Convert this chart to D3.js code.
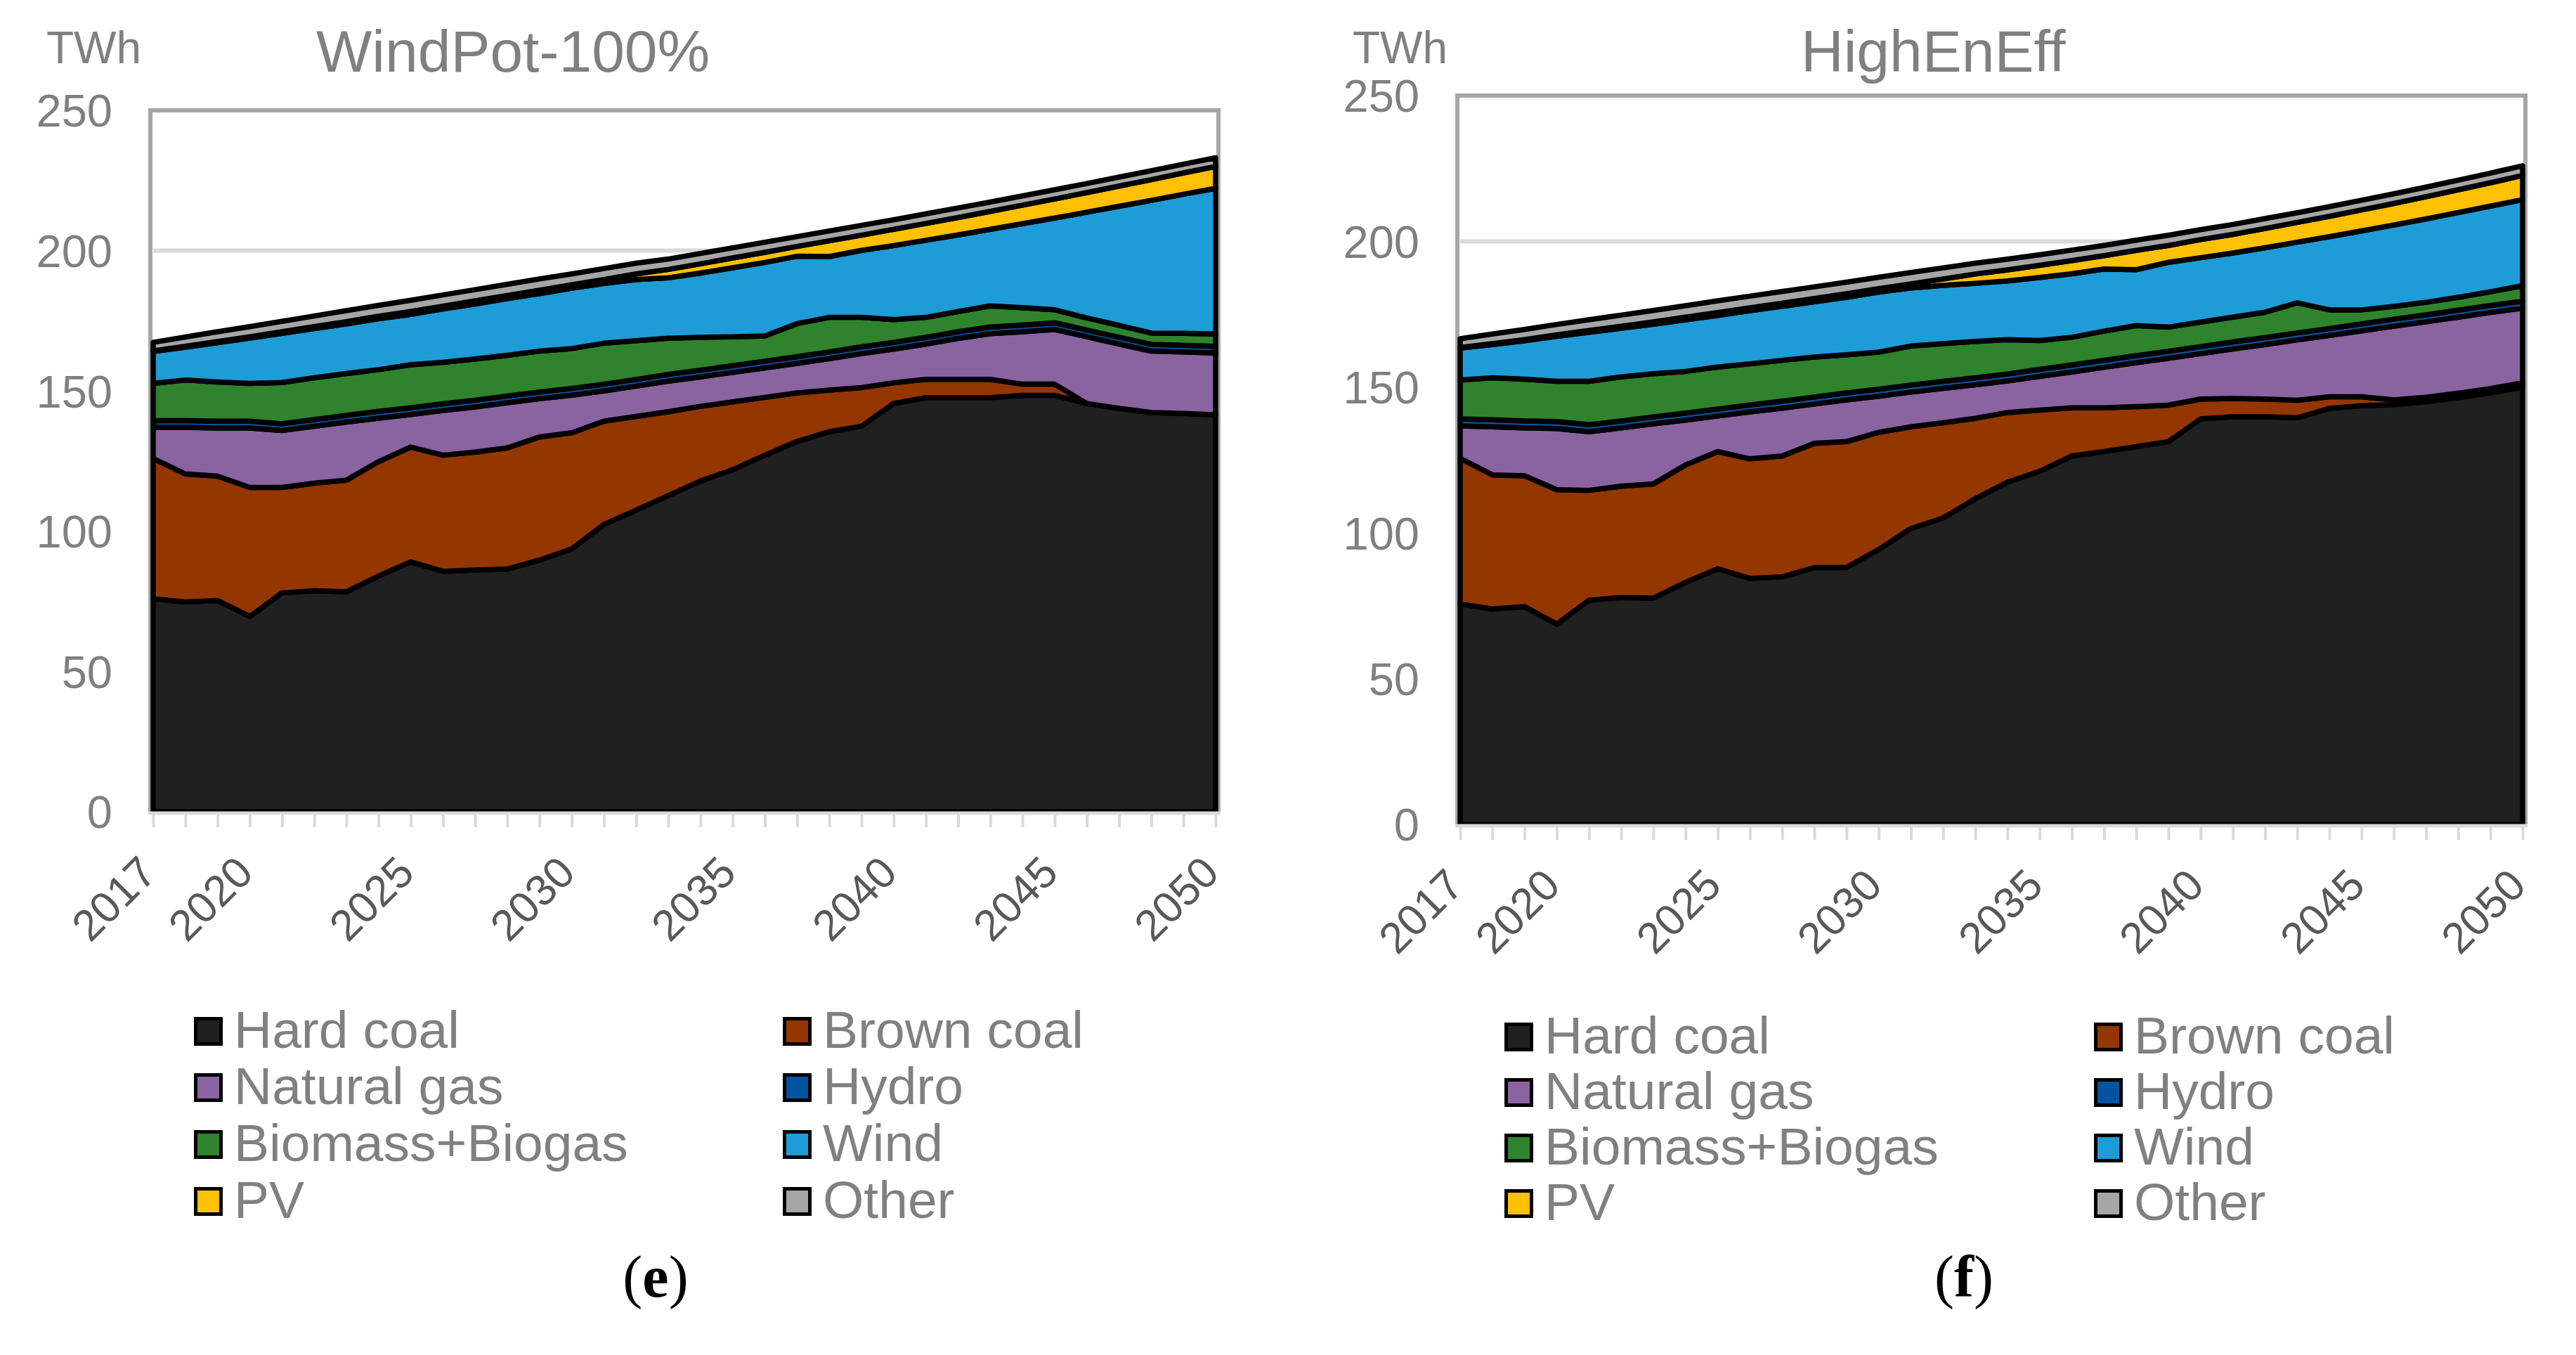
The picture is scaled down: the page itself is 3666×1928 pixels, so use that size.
<!DOCTYPE html>
<html><head><meta charset="utf-8">
<script src="https://cdn.jsdelivr.net/npm/d3@7"></script>
<style>body{margin:0;background:#fff}svg{display:block}</style>
</head><body>
<svg id="c" width="3666" height="1928"></svg>
<script>
const years = [2017,2018,2019,2020,2021,2022,2023,2024,2025,2026,2027,2028,2029,2030,2031,2032,2033,2034,2035,2036,2037,2038,2039,2040,2041,2042,2043,2044,2045,2046,2047,2048,2049,2050];
const seriesNames = ["Hard coal","Brown coal","Natural gas","Hydro","Biomass+Biogas","Wind","PV","Other"];
const seriesColors = ["#202020","#943600","#8A63A1","#00539C","#2F832D","#1E9CD7","#FFC000","#A6A6A6"];
const xTickLabels = [2017,2020,2025,2030,2035,2040,2045,2050];
const yTickValues = [0,50,100,150,200,250];

// (e) WindPot-100%
const wp_hardCoal = [75.9,74.8,75.3,69.6,78.0,78.8,78.4,84.0,89.1,85.7,86.2,86.5,89.7,93.7,102.4,107.5,112.7,117.9,121.9,127.1,132.0,135.5,137.4,145.5,147.6,147.6,147.6,148.4,148.4,145.5,143.8,142.3,142.0,141.5];
const wp_brownCoal = [50.0,45.6,44.3,46.0,37.6,38.3,39.8,40.8,40.9,41.4,42.0,43.2,43.9,41.4,36.8,33.4,29.9,26.6,24.2,20.6,17.3,14.8,13.8,7.4,6.5,6.5,6.5,4.0,4.0,0,0,0,0,0];
const wp_gas = [11.1,16.6,17.2,21.2,20.3,20.3,20.7,15.5,11.6,15.9,16.1,16.1,13.6,13.4,10.8,10.8,10.9,10.5,10.5,10.5,10.5,11.2,12.1,12.0,12.6,14.6,16.3,18.7,19.5,23.8,22.9,21.9,21.9,22.0];
const wp_hydro = [2.4,2.4,2.4,2.4,2.4,2.4,2.4,2.4,2.4,2.4,2.4,2.4,2.4,2.4,2.4,2.4,2.4,2.4,2.4,2.4,2.4,2.4,2.4,2.4,2.4,2.4,2.4,2.4,2.4,2.4,2.4,2.4,2.4,2.4];
const wp_bio = [13.3,14.5,14.0,13.5,14.7,14.9,14.9,14.9,15.3,14.8,14.7,14.5,14.6,14.2,14.6,13.8,12.9,11.7,10.3,9.0,11.8,12.3,10.5,8.1,7.1,7.2,7.5,6.2,4.6,4.3,4.3,4.0,4.2,4.4];
const wp_wind = [11.4,11.7,14.0,16.1,17.5,17.5,17.7,18.1,18.0,19.0,19.6,20.2,20.5,21.5,21.3,21.8,21.5,22.9,24.6,26.2,24.0,21.7,23.9,26.4,27.5,27.3,27.3,29.9,32.7,37.7,42.4,47.3,49.6,51.9];
const wp_pv = [0.2,0.3,0.4,0.5,0.6,0.7,0.8,0.9,1.0,1.0,1.1,1.1,1.2,1.2,1.4,2.0,3.0,3.3,3.5,3.6,3.5,5.6,5.4,5.8,6.0,6.2,6.4,6.6,6.8,7.0,7.2,7.4,7.6,7.8];
const wp_other = [3.0,3.3,3.5,3.6,3.7,3.8,3.9,3.9,4.0,4.0,4.0,4.0,4.0,3.9,3.9,3.8,3.7,3.7,3.6,3.6,3.5,3.5,3.5,3.4,3.4,3.4,3.3,3.3,3.3,3.2,3.2,3.2,3.1,3.1];

// (f) HighEnEff
const he_hardCoal = [75.6,73.9,74.7,68.7,76.9,77.8,77.6,83.0,87.7,84.4,84.9,88.1,88.1,94.3,101.5,105.1,111.7,117.4,121.1,126.4,127.9,129.6,131.3,139.1,139.8,139.8,139.5,142.7,143.6,144.0,145.0,146.4,148.0,150.0];
const he_brownCoal = [50.0,46.0,44.9,46.1,37.7,38.2,39.2,40.3,40.2,41.0,41.5,42.6,43.2,40.2,34.9,32.7,27.6,23.9,21.0,16.5,15.0,13.7,12.5,6.8,6.3,6.1,6.0,4.0,3.1,1.6,1.5,1.5,1.5,1.5];
const he_gas = [11.1,16.5,16.4,21.0,20.1,20.0,20.6,15.4,12.2,16.1,16.4,13.5,14.3,12.4,11.9,11.8,11.5,10.8,11.6,12.3,13.9,15.1,16.1,15.6,17.0,18.7,20.7,21.0,22.6,25.3,25.9,26.1,26.1,25.6];
const he_hydro = [2.4,2.4,2.4,2.4,2.4,2.4,2.4,2.4,2.4,2.4,2.4,2.4,2.4,2.4,2.4,2.4,2.4,2.4,2.4,2.4,2.4,2.4,2.4,2.4,2.4,2.4,2.4,2.4,2.4,2.4,2.4,2.4,2.4,2.4];
const he_bio = [13.3,14.4,14.3,13.8,14.9,15.1,14.8,14.3,14.4,14.1,14.0,13.7,13.1,12.7,13.4,12.9,12.5,11.8,9.9,9.5,10.0,10.3,8.3,8.4,8.5,8.7,10.3,6.4,4.8,4.4,4.3,4.4,4.7,5.3];
const he_wind = [11.0,11.4,13.2,15.4,16.8,16.7,17.0,17.7,17.7,18.2,18.5,19.0,19.7,20.6,19.9,20.0,19.9,20.1,21.6,21.8,21.3,19.2,22.2,22.1,22.0,22.1,20.8,25.1,27.1,27.9,28.6,29.1,29.4,29.5];
const he_pv = [0.2,0.3,0.4,0.5,0.6,0.7,0.8,0.9,1.0,1.0,1.1,1.1,1.2,1.2,1.4,2.2,3.2,3.8,4.2,4.5,4.6,6.6,5.8,6.2,6.4,6.6,6.8,7.0,7.2,7.4,7.6,7.8,8.0,8.3];
const he_other = [3.0,3.3,3.5,3.6,3.7,3.8,3.9,3.9,4.0,4.0,4.0,4.0,4.0,3.9,3.9,3.8,3.7,3.7,3.6,3.6,3.5,3.5,3.5,3.4,3.4,3.4,3.3,3.3,3.3,3.3,3.3,3.3,3.3,3.3];

const svg = d3.select("#c");
const FONT = "'Liberation Sans', Arial, sans-serif";

const charts = [
  {title:"WindPot-100%", cap:"e", series:[wp_hardCoal,wp_brownCoal,wp_gas,wp_hydro,wp_bio,wp_wind,wp_pv,wp_other],
   left:218, right:1730, bottom:1155, top:157, titleX:450, unitX:66,
   legCols:[276,1114], legRows:[1491,1571,1652,1733], capX:933},
  {title:"HighEnEff", cap:"f", series:[he_hardCoal,he_brownCoal,he_gas,he_hydro,he_bio,he_wind,he_pv,he_other],
   left:2078, right:3590, bottom:1173, top:136, titleX:2563, unitX:1925,
   legCols:[2141,2980], legRows:[1499,1578,1657,1736], capX:2795}
];

charts.forEach(c => {
  const g = svg.append("g");
  const x = d3.scaleLinear().domain([years[0], years[years.length-1]]).range([c.left, c.right]);
  const y = d3.scaleLinear().domain([0, 250]).range([c.bottom, c.top]);

  // gridlines
  g.selectAll(".grid").data(yTickValues.filter(v => v > 0 && v < 250)).enter().append("line")
    .attr("x1", c.left).attr("x2", c.right).attr("y1", d => y(d)).attr("y2", d => y(d))
    .attr("stroke", "#D9D9D9").attr("stroke-width", 6);

  // plot border (left, top, right)
  g.append("path")
    .attr("d", `M${c.left-4},${c.bottom+2}V${y(250)}H${c.right+4}V${c.bottom+2}`)
    .attr("fill", "none").attr("stroke", "#A6A6A6").attr("stroke-width", 6);

  // stacked data
  const rows = years.map((yr, i) => {
    const r = {year: yr};
    seriesNames.forEach((n, k) => r[n] = c.series[k][i]);
    return r;
  });
  const stacked = d3.stack().keys(seriesNames)(rows);
  const area = d3.area().x(d => x(d.data.year)).y0(d => y(d[0])).y1(d => y(d[1]));
  g.selectAll(".area").data(stacked).enter().append("path")
    .attr("d", area)
    .attr("fill", (d, k) => seriesColors[k])
    .attr("stroke", "#000").attr("stroke-width", 7.5)
    .attr("stroke-linejoin", "round");

  // bottom axis
  const ax = g.append("g").attr("transform", `translate(0,${c.bottom+2})`)
    .call(d3.axisBottom(x).tickValues(years).tickSize(20).tickFormat(""));
  ax.select(".domain").attr("d", `M${c.left-7},0H${c.right+7}`).attr("stroke", "#D9D9D9").attr("stroke-width", 5);
  ax.selectAll(".tick line").attr("stroke", "#D9D9D9").attr("stroke-width", 4);

  // x labels
  g.selectAll(".xl").data(xTickLabels).enter().append("text")
    .attr("transform", d => `translate(${x(d)+8},${c.bottom+90}) rotate(-45)`)
    .attr("text-anchor", "end").attr("font-family", FONT).attr("font-size", 62)
    .attr("fill", "#595959").text(d => d);

  // y labels
  g.selectAll(".yl").data(yTickValues).enter().append("text")
    .attr("x", c.left - 58).attr("y", d => y(d)).attr("dy", "0.36em")
    .attr("text-anchor", "end").attr("font-family", FONT).attr("font-size", 65)
    .attr("fill", "#808080").text(d => d);

  // unit & title
  g.append("text").attr("x", c.unitX).attr("y", 90).attr("font-family", FONT).attr("font-size", 64)
    .attr("fill", "#808080").text("TWh");
  g.append("text").attr("x", c.titleX).attr("y", 102).attr("font-family", FONT).attr("font-size", 84)
    .attr("fill", "#808080").text(c.title);

  // legend
  seriesNames.forEach((n, k) => {
    const cx = c.legCols[k % 2], by = c.legRows[Math.floor(k / 2)];
    g.append("rect").attr("x", cx + 2.5).attr("y", by - 41.5).attr("width", 36).attr("height", 36)
      .attr("fill", seriesColors[k]).attr("stroke", "#000").attr("stroke-width", 5);
    g.append("text").attr("x", cx + 57).attr("y", by).attr("font-family", FONT).attr("font-size", 75)
      .attr("fill", "#808080").text(n);
  });

  // caption
  const t = g.append("text").attr("x", c.capX).attr("y", 1845).attr("text-anchor", "middle")
    .attr("font-family", "'Liberation Serif', 'Times New Roman', serif").attr("font-size", 84).attr("fill", "#000");
  t.append("tspan").text("(");
  t.append("tspan").attr("font-weight", "bold").text(c.cap);
  t.append("tspan").text(")");
});
</script>
</body></html>
